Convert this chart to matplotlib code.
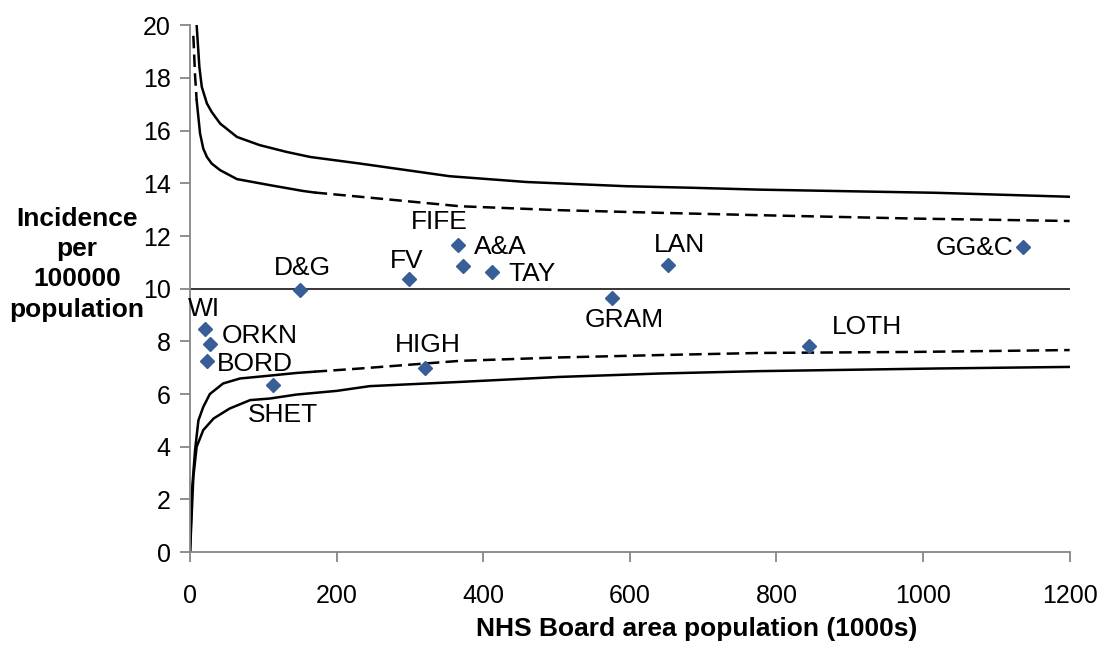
import matplotlib
matplotlib.use("Agg")
import matplotlib.pyplot as plt

plt.rcParams['font.family'] = ['Liberation Sans', 'DejaVu Sans']

# NHS boards: population (1000s) and incidence per 100000
boards = ["WI", "ORKN", "BORD", "SHET", "D&G", "FV", "FIFE", "A&A", "TAY",
          "GRAM", "LAN", "HIGH", "LOTH", "GG&C"]
population = [20.5, 27, 23, 113, 150, 299, 365, 372, 412, 575, 652, 320, 845, 1137]
incidence = [8.46, 7.89, 7.25, 6.34, 9.94, 10.36, 11.65, 10.85, 10.63, 9.64, 10.89,
             6.98, 7.82, 11.57]

# control limits
upper_outer_x = [9, 12.7, 16, 23, 29.5, 41, 64, 95, 132, 164, 232, 354, 459, 595, 686,
                 777, 1018, 1200]
upper_outer_y = [20.0, 18.42, 17.66, 17.03, 16.71, 16.27, 15.76, 15.45, 15.19, 15.0,
                 14.75, 14.27, 14.05, 13.89, 13.83, 13.76, 13.64, 13.49]

upper_inner_top_x = [4.5, 6.8, 9]
upper_inner_top_y = [19.6, 18.1, 17.15]
upper_inner_x = [9, 13.6, 18, 23, 29.5, 41, 64, 109, 154, 170]
upper_inner_y = [17.15, 15.9, 15.32, 15.0, 14.75, 14.5, 14.16, 13.93, 13.71, 13.65]
upper_inner_dash_x = [170, 232, 368, 504, 641, 777, 991, 1200]
upper_inner_dash_y = [13.65, 13.49, 13.13, 12.98, 12.88, 12.79, 12.66, 12.57]

lower_inner_x = [0, 2.3, 6.8, 11.4, 18, 27, 45, 68, 109, 145, 170]
lower_inner_y = [0, 2.2, 3.87, 5.0, 5.51, 6.0, 6.4, 6.59, 6.7, 6.8, 6.85]
lower_inner_dash_x = [170, 232, 368, 504, 641, 777, 991, 1200]
lower_inner_dash_y = [6.85, 6.97, 7.26, 7.39, 7.48, 7.56, 7.60, 7.67]

lower_outer_x = [0, 4.5, 9, 18, 32, 54, 82, 109, 145, 200, 245, 368, 504, 641, 777, 1018, 1200]
lower_outer_y = [0, 2.86, 4.0, 4.63, 5.07, 5.45, 5.77, 5.83, 5.98, 6.12, 6.30, 6.46, 6.65,
                 6.78, 6.87, 6.97, 7.03]

mean_x = [0, 1200]
mean_y = [10, 10]

# label offsets in pixels (dx, dy, ha)
label_pos = {
    "WI": (-1, 20, "center"), "ORKN": (12, 8, "left"), "BORD": (10, -3, "left"),
    "SHET": (10, -30, "center"), "D&G": (2, 22, "center"), "FV": (-3, 18, "center"),
    "FIFE": (-18, 23, "center"), "A&A": (11, 19, "left"), "TAY": (16, -2, "left"),
    "GRAM": (13, -22, "center"), "LAN": (12, 20, "center"), "HIGH": (3, 23, "center"),
    "LOTH": (22, 19, "left"), "GG&C": (-10, -1, "right"),
}

fig = plt.figure(figsize=(11.05, 6.48), dpi=100)
ax = fig.add_axes([0.172, 0.148, 0.796, 0.813])

lw = 1.8
dash = (0, (5, 2.5))
ax.plot(mean_x, mean_y, color="black", lw=1.1)
ax.plot(upper_outer_x, upper_outer_y, color="black", lw=lw)
ax.plot(upper_inner_top_x, upper_inner_top_y, color="black", lw=lw, linestyle=dash)
ax.plot(upper_inner_x, upper_inner_y, color="black", lw=lw)
ax.plot(upper_inner_dash_x, upper_inner_dash_y, color="black", lw=lw, linestyle=dash)
ax.plot(lower_inner_x, lower_inner_y, color="black", lw=lw)
ax.plot(lower_inner_dash_x, lower_inner_dash_y, color="black", lw=lw, linestyle=dash)
ax.plot(lower_outer_x, lower_outer_y, color="black", lw=lw)

ax.plot(population, incidence, linestyle="none", marker="D", ms=7.5,
        color="#375E97", zorder=5)

for name, x, y in zip(boards, population, incidence):
    dx, dy, ha = label_pos[name]
    ax.annotate(name, (x, y), xytext=(dx, dy), textcoords="offset pixels",
                ha=ha, va="center", fontsize=19)

ax.set_xlim(0, 1200)
ax.set_ylim(0, 20)
ax.set_xticks(range(0, 1201, 200))
ax.set_yticks(range(0, 21, 2))

for side in ["top", "right"]:
    ax.spines[side].set_visible(False)
for side in ["left", "bottom"]:
    ax.spines[side].set_color("#868686")
    ax.spines[side].set_linewidth(1.3)
ax.tick_params(colors="#868686", labelcolor="black", labelsize=18, length=7, width=1.3)
ax.tick_params(axis="x", pad=16)
ax.tick_params(axis="y", pad=7)

ax.set_xlabel("NHS Board area population (1000s)", fontsize=19, fontweight="bold")
ax.xaxis.set_label_coords(0.576, -0.123)
fig.text(0.0697, 0.592, "Incidence\nper\n100000\npopulation", fontsize=19,
         fontweight="bold", ha="center", va="center", linespacing=1.32)

fig.savefig("out.png", dpi=100)
